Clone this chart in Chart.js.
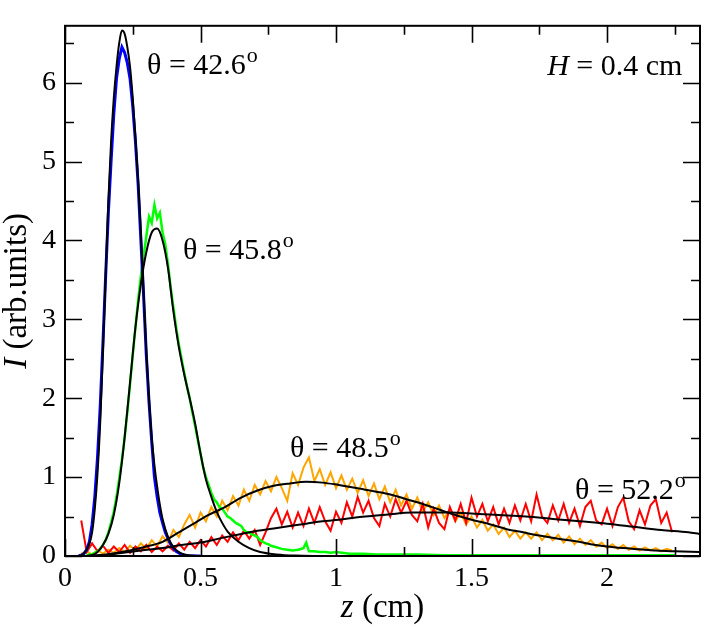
<!DOCTYPE html>
<html>
<head>
<meta charset="utf-8">
<script src="https://cdn.jsdelivr.net/npm/chart.js@4.4.0/dist/chart.umd.min.js"></script>
<style>
  html, body { margin: 0; padding: 0; background: #fff; }
  #chart { display: block; }
</style>
</head>
<body>
<canvas id="chart" width="704" height="627"></canvas>
<script>
/* ============ DATA ============ */
// axis ticks
const xMajor = [0, 0.5, 1, 1.5, 2];
const xMinor = [0.25, 0.75, 1.25, 1.75, 2.25];
const yMajor = [0, 1, 2, 3, 4, 5, 6];
const yMinor = [0.5, 1.5, 2.5, 3.5, 4.5, 5.5, 6.5];

// theta = 42.6 (blue)
const zBlue = [0.05,0.06,0.07,0.08,0.09,0.10,0.11,0.12,0.13,0.14,0.15,0.16,0.17,0.18,0.19,0.20,0.21,0.22,0.23,0.24,0.25,0.26,0.27,0.28,0.29,0.30,0.31,0.32,0.33,0.34,0.35,0.36,0.37,0.38,0.39,0.40,0.41,0.42,0.43,0.44,0.45,0.50];
const iBlue = [0,0.01,0.03,0.08,0.18,0.40,0.75,1.25,1.90,2.70,3.55,4.35,5.00,5.60,6.05,6.30,6.45,6.38,6.25,6.05,5.70,5.25,4.70,4.00,3.30,2.55,1.95,1.45,1.00,0.75,0.55,0.42,0.30,0.22,0.15,0.10,0.06,0.04,0.02,0.01,0,0];
const zBlueFit = [0.04,0.06,0.08,0.09,0.10,0.11,0.12,0.13,0.14,0.15,0.16,0.17,0.18,0.19,0.20,0.21,0.22,0.23,0.24,0.25,0.26,0.27,0.28,0.29,0.30,0.31,0.32,0.33,0.34,0.35,0.36,0.38,0.40,0.42,0.44,0.47,0.50];
const iBlueFit = [0,0.01,0.08,0.16,0.30,0.60,1.05,1.70,2.60,3.55,4.50,5.25,5.80,6.20,6.50,6.66,6.62,6.45,6.20,5.80,5.30,4.75,4.10,3.35,2.60,2.00,1.50,1.15,0.88,0.65,0.47,0.24,0.11,0.05,0.02,0.005,0];

// theta = 45.8 (green)
const zGreen = [0.08,0.09,0.10,0.11,0.12,0.13,0.14,0.15,0.16,0.17,0.18,0.19,0.20,0.21,0.22,0.23,0.24,0.25,0.26,0.27,0.28,0.29,0.30,0.31,0.32,0.33,0.34,0.35,0.36,0.37,0.38,0.39,0.40,0.41,0.42,0.43,0.44,0.45,0.46,0.47,0.48,0.49,0.50,0.51,0.52,0.53,0.54,0.55,0.56,0.57,0.58,0.59,0.60,0.61,0.62,0.63,0.64,0.65,0.66,0.67,0.68,0.69,0.70,0.71,0.72,0.73,0.74,0.75,0.76,0.77,0.78,0.79,0.80,0.82,0.84,0.86,0.88,0.89,0.90,0.92,0.94,0.96,0.98,1.00,1.05,1.10,1.15,1.20,1.30,1.40,1.50,1.60,1.70,1.80,1.90,2.00,2.10,2.20,2.25];
const iGreen = [0.01,0.02,0.02,0.04,0.06,0.09,0.14,0.20,0.30,0.42,0.56,0.75,0.98,1.22,1.50,1.82,2.18,2.55,2.90,3.25,3.55,3.80,4.05,4.30,4.22,4.45,4.28,4.35,4.10,3.95,3.70,3.40,3.15,2.90,2.68,2.50,2.32,2.15,2.00,1.82,1.65,1.47,1.30,1.12,1.00,0.90,0.80,0.72,0.68,0.62,0.60,0.55,0.50,0.48,0.45,0.42,0.40,0.38,0.33,0.30,0.30,0.27,0.26,0.24,0.20,0.18,0.16,0.15,0.13,0.12,0.11,0.10,0.09,0.08,0.07,0.08,0.10,0.17,0.06,0.06,0.05,0.05,0.04,0.05,0.03,0.03,0.02,0.02,0.02,0.01,0.01,0.01,0.01,0.01,0.01,0.01,0.01,0.01,0.01];
const zGreenFit = [0.08,0.10,0.12,0.14,0.16,0.18,0.20,0.22,0.24,0.26,0.28,0.30,0.32,0.34,0.36,0.38,0.40,0.42,0.44,0.46,0.48,0.50,0.52,0.54,0.56,0.58,0.60,0.64,0.68,0.72,0.78,0.85,0.95];
const iGreenFit = [0,0.01,0.05,0.14,0.28,0.52,0.92,1.50,2.20,2.90,3.45,3.85,4.10,4.15,4.00,3.65,3.10,2.65,2.30,2.00,1.68,1.30,0.97,0.75,0.56,0.42,0.31,0.18,0.10,0.05,0.02,0.005,0];

// theta = 48.5 (orange) and theta = 52.2 (red) share one z grid
const zWide = [0.06,0.08,0.10,0.12,0.14,0.16,0.18,0.20,0.22,0.24,0.26,0.28,0.30,0.32,0.34,0.36,0.38,0.40,0.42,0.44,0.46,0.48,0.50,0.52,0.54,0.56,0.58,0.60,0.62,0.64,0.66,0.68,0.70,0.72,0.74,0.76,0.78,0.80,0.82,0.84,0.86,0.88,0.90,0.92,0.94,0.96,0.98,1.00,1.02,1.04,1.06,1.08,1.10,1.12,1.14,1.16,1.18,1.20,1.22,1.24,1.26,1.28,1.30,1.32,1.34,1.36,1.38,1.40,1.42,1.44,1.46,1.48,1.50,1.52,1.54,1.56,1.58,1.60,1.62,1.64,1.66,1.68,1.70,1.72,1.74,1.76,1.78,1.80,1.82,1.84,1.86,1.88,1.90,1.92,1.94,1.96,1.98,2.00,2.02,2.04,2.06,2.08,2.10,2.12,2.14,2.16,2.18,2.20,2.22,2.24];
const iOrange = [0.03,0.06,0.02,0.07,0.03,0.08,0.04,0.10,0.05,0.13,0.07,0.16,0.09,0.20,0.12,0.25,0.17,0.33,0.24,0.40,0.52,0.36,0.55,0.44,0.62,0.50,0.70,0.58,0.76,0.64,0.84,0.70,0.90,0.78,0.95,0.82,1.00,0.86,0.70,1.05,0.90,1.12,1.25,0.95,1.10,0.90,1.06,0.86,1.02,0.84,0.98,0.80,0.96,0.76,0.92,0.72,0.88,0.68,0.84,0.64,0.78,0.60,0.74,0.56,0.68,0.52,0.64,0.48,0.60,0.44,0.55,0.40,0.50,0.36,0.46,0.32,0.40,0.28,0.36,0.24,0.32,0.22,0.30,0.22,0.30,0.20,0.28,0.20,0.27,0.17,0.25,0.15,0.22,0.14,0.20,0.12,0.17,0.10,0.15,0.09,0.14,0.08,0.12,0.07,0.11,0.07,0.10,0.06,0.09,0.07];
const iRed = [0.45,0.05,0.16,0.06,0.13,0.04,0.12,0.05,0.14,0.04,0.12,0.06,0.14,0.05,0.12,0.06,0.13,0.07,0.16,0.08,0.18,0.10,0.20,0.12,0.24,0.14,0.26,0.18,0.30,0.20,0.32,0.22,0.33,0.14,0.30,0.48,0.60,0.40,0.56,0.36,0.55,0.38,0.60,0.42,0.62,0.44,0.32,0.56,0.42,0.68,0.50,0.75,0.55,0.70,0.48,0.38,0.66,0.50,0.72,0.55,0.70,0.52,0.44,0.66,0.36,0.60,0.42,0.34,0.62,0.45,0.66,0.42,0.74,0.50,0.66,0.44,0.62,0.40,0.60,0.42,0.64,0.45,0.66,0.44,0.78,0.50,0.42,0.64,0.45,0.66,0.42,0.60,0.38,0.62,0.70,0.45,0.40,0.60,0.38,0.62,0.74,0.44,0.34,0.58,0.40,0.64,0.72,0.42,0.55,0.30];

const zOrangeFit = [0.08,0.15,0.24,0.30,0.36,0.42,0.47,0.53,0.59,0.65,0.71,0.77,0.83,0.89,0.95,1.01,1.08,1.14,1.20,1.26,1.32,1.38,1.44,1.50,1.57,1.63,1.69,1.75,1.82,1.88,1.94,2.00,2.06,2.12,2.18,2.25,2.34];
const iOrangeFit = [0,0.02,0.07,0.12,0.18,0.30,0.40,0.52,0.62,0.74,0.83,0.89,0.92,0.94,0.93,0.90,0.86,0.82,0.78,0.72,0.66,0.59,0.52,0.46,0.40,0.34,0.30,0.26,0.22,0.19,0.15,0.12,0.10,0.085,0.07,0.06,0.05];
const zRedFit = [0.08,0.15,0.20,0.28,0.36,0.43,0.50,0.58,0.65,0.71,0.77,0.83,0.89,0.95,1.01,1.08,1.14,1.20,1.28,1.35,1.42,1.50,1.60,1.70,1.80,1.90,2.00,2.10,2.20,2.30,2.34];
const iRedFit = [0,0.01,0.035,0.07,0.10,0.14,0.17,0.23,0.28,0.32,0.35,0.38,0.41,0.44,0.46,0.49,0.51,0.53,0.55,0.55,0.55,0.54,0.52,0.50,0.47,0.44,0.41,0.37,0.33,0.30,0.28];

const notes = ["\u03b8 = 42.6", "\u03b8 = 45.8", "\u03b8 = 48.5", "\u03b8 = 52.2"];

/* ============ HELPERS ============ */
function pts(zs, is) {
  return zs.map((z, k) => ({ x: z, y: is[k] }));
}
function dataLine(zs, is, color, w) {
  return { data: pts(zs, is), borderColor: color, borderWidth: w || 2, pointRadius: 0, tension: 0 };
}
function fitLine(zs, is) {
  return { data: pts(zs, is), borderColor: "#000", borderWidth: 2, pointRadius: 0, cubicInterpolationMode: "monotone" };
}

const SERIF = '"Liberation Serif", "DejaVu Serif", serif';

/* ============ FRAME, TICKS, TEXT ============ */
const framePlugin = {
  id: "frame",
  afterDatasetsDraw(chart) {
    const { ctx, chartArea: a, scales: { x, y } } = chart;
    ctx.save();
    ctx.strokeStyle = "#000";
    ctx.lineWidth = 2;
    ctx.strokeRect(a.left, a.top, a.right - a.left, a.bottom - a.top);

    ctx.lineWidth = 1.6;
    ctx.beginPath();
    const tx = (v, len) => {
      const p = Math.round(x.getPixelForValue(v)) + 0.5;
      ctx.moveTo(p, a.bottom); ctx.lineTo(p, a.bottom - len);
      ctx.moveTo(p, a.top); ctx.lineTo(p, a.top + len);
    };
    const ty = (v, len) => {
      const p = Math.round(y.getPixelForValue(v)) + 0.5;
      ctx.moveTo(a.left, p); ctx.lineTo(a.left + len, p);
      ctx.moveTo(a.right, p); ctx.lineTo(a.right - len, p);
    };
    xMajor.forEach(v => tx(v, 17));
    xMinor.forEach(v => tx(v, 9));
    yMajor.forEach(v => ty(v, 17));
    yMinor.forEach(v => ty(v, 9));
    ctx.stroke();

    // theta labels
    ctx.fillStyle = "#000";
    ctx.textBaseline = "alphabetic";
    ctx.textAlign = "left";
    const anchors = [[0.3026, 6.11], [0.435, 3.76], [0.830, 1.253], [1.882, 0.718]];
    notes.forEach((t, k) => {
      const px = x.getPixelForValue(anchors[k][0]);
      const py = y.getPixelForValue(anchors[k][1]);
      ctx.font = "30px " + SERIF;
      ctx.fillText(t, px, py);
      const w = ctx.measureText(t).width;
      ctx.font = "22px " + SERIF;
      ctx.fillText("o", px + w + 1, py - 12);
    });

    // H = 0.4 cm
    {
      const px = x.getPixelForValue(1.779);
      const py = y.getPixelForValue(6.097);
      ctx.font = "italic 30px " + SERIF;
      ctx.fillText("H", px, py);
      const w = ctx.measureText("H").width;
      ctx.font = "30px " + SERIF;
      ctx.fillText(" = 0.4 cm", px + w, py);
    }

    // x title: z (cm)
    {
      ctx.font = "italic 33px " + SERIF;
      const w1 = ctx.measureText("z").width;
      ctx.font = "33px " + SERIF;
      const w2 = ctx.measureText(" (cm)").width;
      const x0 = (a.left + a.right) / 2 - (w1 + w2) / 2;
      ctx.font = "italic 33px " + SERIF;
      ctx.fillText("z", x0, 617);
      ctx.font = "33px " + SERIF;
      ctx.fillText(" (cm)", x0 + w1, 617);
    }

    // y title: I (arb.units)
    {
      ctx.translate(26, (a.top + a.bottom) / 2);
      ctx.rotate(-Math.PI / 2);
      ctx.font = "italic 33px " + SERIF;
      const w1 = ctx.measureText("I").width;
      ctx.font = "33px " + SERIF;
      const w2 = ctx.measureText(" (arb.units)").width;
      const x0 = -(w1 + w2) / 2;
      ctx.font = "italic 33px " + SERIF;
      ctx.fillText("I", x0, 0);
      ctx.font = "33px " + SERIF;
      ctx.fillText(" (arb.units)", x0 + w1, 0);
    }
    ctx.restore();
  }
};

/* ============ CHART ============ */
new Chart(document.getElementById("chart"), {
  type: "line",
  data: {
    datasets: [
      fitLine(zBlueFit, iBlueFit),
      fitLine(zGreenFit, iGreenFit),
      fitLine(zOrangeFit, iOrangeFit),
      fitLine(zRedFit, iRedFit),
      dataLine(zBlue, iBlue, "#0000ff", 3),
      dataLine(zGreen, iGreen, "#00ff00", 2.5),
      dataLine(zWide, iRed, "#ff0000"),
      dataLine(zWide, iOrange, "#ffa500")
    ]
  },
  options: {
    responsive: false,
    animation: false,
    events: [],
    layout: { padding: { top: 4, right: 4, left: 0, bottom: 0 } },
    plugins: { legend: { display: false }, tooltip: { enabled: false } },
    scales: {
      x: {
        type: "linear",
        min: 0,
        max: 2.343,
        grid: { display: false, drawTicks: false },
        border: { display: false },
        afterBuildTicks: s => { s.ticks = xMajor.map(v => ({ value: v })); },
        afterFit: s => { s.height = 71; },
        ticks: { color: "#000", padding: 6, maxRotation: 0, font: { family: SERIF, size: 28 }, callback: v => String(v) }
      },
      y: {
        type: "linear",
        min: 0,
        max: 6.72,
        grid: { display: false, drawTicks: false },
        border: { display: false },
        afterBuildTicks: s => { s.ticks = yMajor.map(v => ({ value: v })); },
        afterFit: s => { s.width = 65; },
        ticks: { color: "#000", padding: 9, font: { family: SERIF, size: 28 }, callback: v => String(v) }
      }
    }
  },
  plugins: [framePlugin]
});
</script>
</body>
</html>
